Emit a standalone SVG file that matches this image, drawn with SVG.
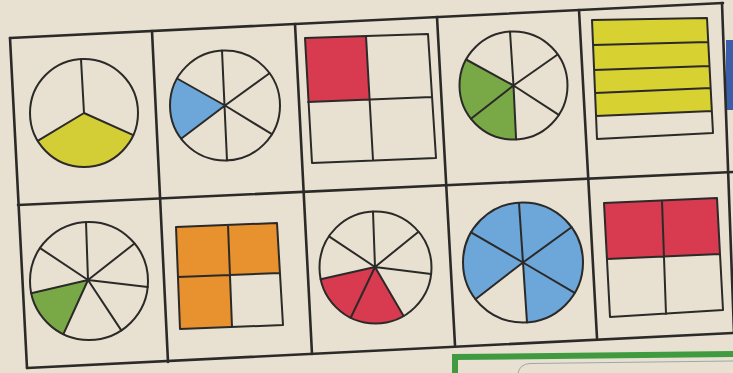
<svg xmlns="http://www.w3.org/2000/svg" width="733" height="373" viewBox="0 0 733 373">
<style>
.ln{stroke:#2b2a28;fill:none;stroke-linecap:round;stroke-linejoin:round}
.grid{stroke-width:2.6}
.sh{stroke-width:2}
.yel{fill:#d3cd36}
.yel2{fill:#d8d132}
.blu{fill:#6da6d8}
.red{fill:#d83a4f}
.grn{fill:#79a846}
.org{fill:#e8912f}
</style>
<rect x="0" y="0" width="733" height="373" fill="#e8e1d1"/>
<rect x="726" y="40" width="7" height="70" fill="#3d5ea8"/>
<g id="frame" class="ln grid">
<path d="M10 38 L723 3"/>
<path d="M18 205 L733 172"/>
<path d="M27 368 L733 333"/>
<path d="M10 38 L27 368"/>
<path d="M152 31 L168 362"/>
<path d="M295 24 L312 354"/>
<path d="M437 17 L455 345"/>
<path d="M579 10 L597 338"/>
<path d="M722 3 L734 333"/>
</g>
<g id="cell1">
<path class="yel" d="M84 113 L37.7 140.8 A54 54 0 0 0 133.3 135.1 Z"/>
<circle class="ln sh" cx="84" cy="113" r="54"/>
<path class="ln sh" d="M84 113 L81 59.1 M84 113 L37.7 140.8 M84 113 L133.3 135.1"/>
</g>
<g id="cell2">
<path class="blu" d="M225 105.5 L177.1 78.5 A55 55 0 0 0 181.1 138.7 Z"/>
<circle class="ln sh" cx="225" cy="105.5" r="55"/>
<path class="ln sh" d="M222 50.6 L227 160.5 M177.1 78.5 L225 105.5 L181.1 138.7 M269.5 73.2 L225 105.5 L271.9 134.2"/>
</g>
<g id="cell3">
<path class="red" d="M305 38 L366 36 L369 99.5 L308 102 Z"/>
<path class="ln sh" d="M305 38 L428 34 L436 158 L312 163 Z M366 36 L373 160 M308 102 L432 97"/>
</g>
<g id="cell4">
<path class="grn" d="M513.5 85.5 L466.1 59.5 A54 54 0 0 0 516.1 139.5 Z"/>
<circle class="ln sh" cx="513.5" cy="85.5" r="54"/>
<path class="ln sh" d="M510 31.6 L513.5 85.5 L516.1 139.5 M466.1 59.5 L513.5 85.5 L471 118.8 M557.7 54.5 L513.5 85.5 L558.8 114.9"/>
</g>
<g id="cell5">
<path class="yel2" d="M592 20 L707 18 L711.9 111 L596 116 Z"/>
<path class="ln sh" d="M592 20 L707 18 L713 133 L597 139 Z M593.1 45 L708.3 42 M594.1 70 L709.5 66 M595.1 93 L710.7 88 M596 116 L711.9 111"/>
</g>
<g id="cell6">
<path class="grn" d="M88 280 L31.2 293.2 A59 59 0 0 0 63.4 334.2 Z"/>
<circle class="ln sh" cx="89" cy="281" r="59"/>
<path class="ln sh" d="M88 280 L86 222 M88 280 L134.5 243.5 M88 280 L147.7 287.1 M88 280 L121.3 330.4 M88 280 L63.4 334.2 M88 280 L31.2 293.2 M88 280 L40.1 248.1"/>
</g>
<g id="cell7">
<path class="org" d="M176 227 L277 223 L280 273 L230 275 L232 327 L180 329 Z"/>
<path class="ln sh" d="M176 227 L277 223 L283 325 L180 329 Z M228 225 L232 327 M178 277 L280 273"/>
</g>
<g id="cell8">
<path class="red" d="M375 267 L320.7 279.3 A56 56 0 0 0 403.6 316 Z"/>
<circle class="ln sh" cx="375.5" cy="267.5" r="56"/>
<path class="ln sh" d="M375 267 L373 211.5 M375 267 L418.5 231.7 M375 267 L431.1 274 M375 267 L403.6 316 M375 267 L350.7 317.7 M375 267 L320.7 279.3 M375 267 L329 236.3"/>
</g>
<g id="cell9">
<path class="blu" d="M523 262.5 L527 322.4 A60 60 0 1 0 475.5 299.2 Z"/>
<circle class="ln sh" cx="523" cy="262.5" r="60"/>
<path class="ln sh" d="M519 203 L523 262.5 L527 322.4 M571.5 227.2 L523 262.5 L475.5 299.2 M471 232.4 L523 262.5 L574.7 292.8"/>
</g>
<g id="cell10">
<path class="red" d="M604 203 L717 198 L720 254 L607 259 Z"/>
<path class="ln sh" d="M604 203 L717 198 L723 310 L610 317 Z M607 259 L720 254 M662 201 L666 314"/>
</g>
<g id="box">
<path d="M455 373 L455 357 L733 354" fill="none" stroke="#3f9a40" stroke-width="6"/>
<path d="M518 373 Q520 364 530 363.5 L733 361" fill="none" stroke="#9ea7a8" stroke-width="1"/>
</g>
</svg>
